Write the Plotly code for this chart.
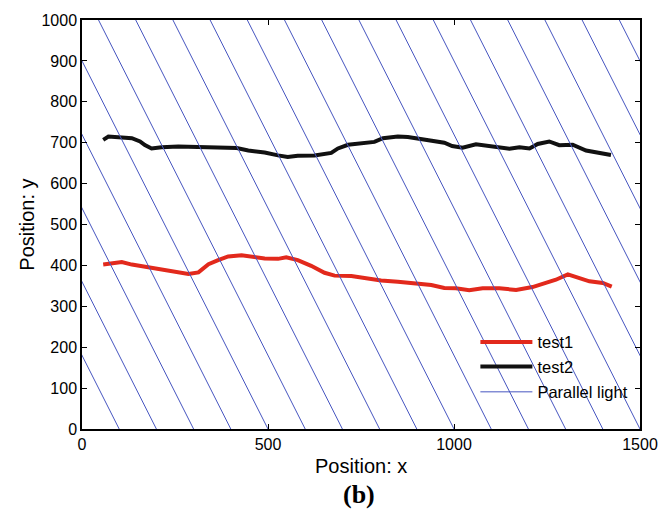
import plotly.graph_objects as go

# ---- data ----
test1_x = [57, 80, 107, 134, 178, 214, 250, 286, 313, 340, 366, 393, 429, 465, 491, 527, 549, 580,
           616, 652, 679, 724, 759, 804, 849, 894, 939, 974, 1005, 1041, 1077, 1122, 1167, 1211,
           1238, 1274, 1306, 1328, 1364, 1400, 1424]
test1_y = [402, 405, 408, 402, 395, 390, 386, 379, 383, 403, 413, 422, 425, 421, 417, 416, 420, 413,
           399, 382, 375, 374, 369, 363, 360, 356, 352, 345, 344, 339, 344, 344, 340, 347,
           355, 365, 378, 371, 361, 357, 348]

test2_x = [57, 71, 107, 134, 156, 169, 187, 214, 259, 313, 375, 416, 447, 491, 527, 553, 580, 625,
           670, 688, 715, 759, 786, 809, 849, 876, 912, 939, 974, 995, 1023, 1059, 1095, 1122,
           1149, 1176, 1203, 1225, 1256, 1283, 1319, 1355, 1382, 1400, 1422]
test2_y = [707, 715, 713, 711, 703, 694, 686, 689, 691, 690, 689, 687, 681, 676, 669, 665, 668, 669,
           675, 686, 695, 698, 702, 711, 715, 714, 708, 704, 700, 692, 688, 696, 691, 689,
           685, 689, 686, 697, 703, 694, 695, 681, 677, 673, 670]

# parallel light: intercepts on y=0 and the light direction (dx per 1000 in y)
light_x0 = [100, 200, 300, 400, 500, 600, 700, 800, 900, 1000,
            1100, 1200, 1300, 1400, 1500, 1600, 1700, 1800, 1900, 2000]
light_dx = -555.6   # x shift when y goes from 0 to 1000

x_ticks = [0, 500, 1000, 1500]
y_ticks = [0, 100, 200, 300, 400, 500, 600, 700, 800, 900, 1000]

# ---- build the light-line trace ----
lx, ly = [], []
for x0 in light_x0:
    lx += [x0, x0 + light_dx, None]
    ly += [0, 1000, None]

fig = go.Figure()
fig.add_trace(go.Scatter(x=test1_x, y=test1_y, mode="lines", name="test1",
                         line=dict(color="#e2291c", width=4), legendgroup="a"))
fig.add_trace(go.Scatter(x=test2_x, y=test2_y, mode="lines", name="test2",
                         line=dict(color="#111111", width=4), legendgroup="a"))
fig.add_trace(go.Scatter(x=lx, y=ly, mode="lines", name="Parallel light",
                         line=dict(color="#4655c0", width=1), legendgroup="b"))

font = "Liberation Sans, Arial, sans-serif"
axis_common = dict(showline=True, linecolor="black", linewidth=1.5, mirror="allticks",
                   ticks="inside", ticklen=5, tickcolor="black", showgrid=False,
                   zeroline=False, tickfont=dict(family=font, size=16, color="black"))

fig.update_layout(
    width=670, height=518,
    margin=dict(l=82, r=29, t=18, b=89),
    paper_bgcolor="white", plot_bgcolor="white",
    showlegend=True,
    legend=dict(x=0.705, y=0.255, xanchor="left", yanchor="top",
                bgcolor="rgba(0,0,0,0)", borderwidth=0,
                font=dict(family=font, size=16.5, color="black"),
                traceorder="grouped", tracegroupgap=1, itemwidth=52),
    xaxis=dict(range=[0, 1500], tickvals=x_ticks, **axis_common),
    yaxis=dict(range=[0, 1000], tickvals=y_ticks, **axis_common),
)
fig.add_annotation(text="Position: x", xref="paper", yref="paper", x=0.5, y=-0.09,
                   xanchor="center", yanchor="middle", showarrow=False,
                   font=dict(family=font, size=20, color="black"))
fig.add_annotation(text="Position: y", xref="paper", yref="paper", x=-0.1, y=0.5,
                   xanchor="center", yanchor="middle", showarrow=False, textangle=-90,
                   font=dict(family=font, size=20, color="black"))
fig.add_annotation(text="<b>(b)</b>", xref="paper", yref="paper", x=0.496, y=-0.16,
                   xanchor="center", yanchor="middle", showarrow=False,
                   font=dict(family="Liberation Serif, Times New Roman, serif", size=26, color="black"))

fig.write_html("out.html")
